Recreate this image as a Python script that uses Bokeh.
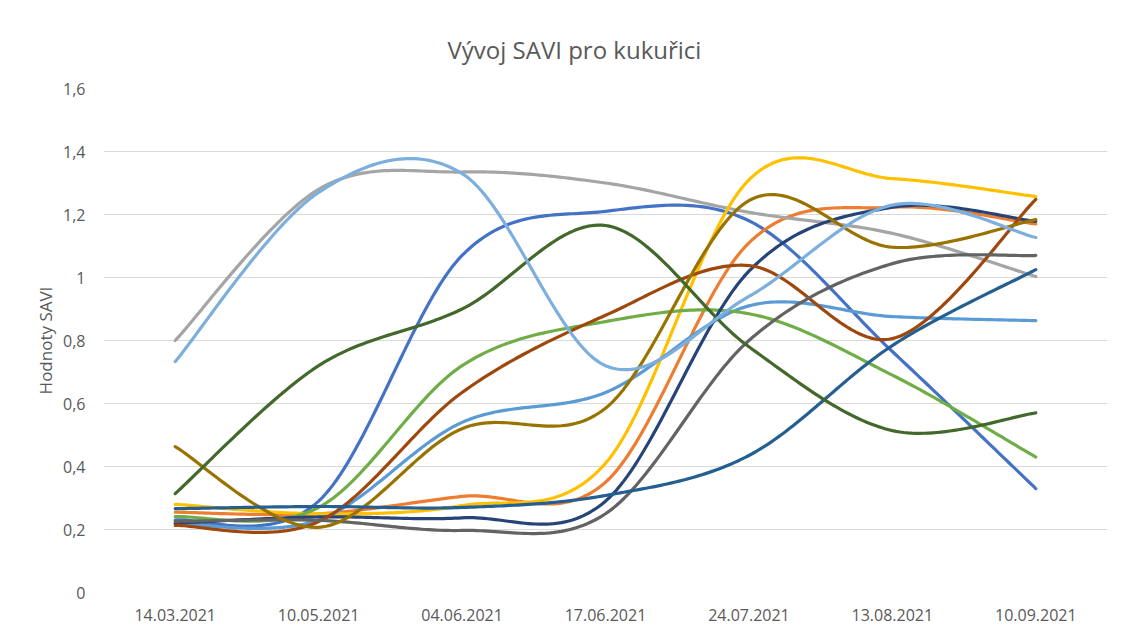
import numpy as np
from bokeh.plotting import figure
from bokeh.models import FixedTicker, Title
from bokeh.embed import file_html
from bokeh.resources import INLINE

# ---- data -------------------------------------------------------------
dates = ["14.03.2021", "10.05.2021", "04.06.2021", "17.06.2021",
         "24.07.2021", "13.08.2021", "10.09.2021"]

s01 = [0.23, 0.29, 1.07, 1.21, 1.18, 0.765, 0.33]       # blue
s02 = [0.255, 0.25, 0.305, 0.35, 1.11, 1.223, 1.17]     # orange
s03 = [0.80, 1.28, 1.335, 1.30, 1.207, 1.14, 1.003]     # gray
s04 = [0.28, 0.25, 0.276, 0.41, 1.31, 1.314, 1.257]     # yellow
s05 = [0.219, 0.23, 0.54, 0.635, 0.91, 0.876, 0.863]    # light blue
s06 = [0.241, 0.27, 0.72, 0.86, 0.885, 0.69, 0.43]      # green
s07 = [0.22, 0.24, 0.237, 0.29, 1.02, 1.223, 1.178]     # navy
s08 = [0.213, 0.225, 0.635, 0.88, 1.038, 0.806, 1.248]  # brown
s09 = [0.226, 0.229, 0.197, 0.25, 0.80, 1.044, 1.07]    # dark gray
s10 = [0.463, 0.207, 0.52, 0.585, 1.244, 1.096, 1.184]  # olive
s11 = [0.266, 0.273, 0.27, 0.308, 0.435, 0.784, 1.025]  # steel blue
s12 = [0.314, 0.72, 0.90, 1.165, 0.78, 0.514, 0.57]     # dark green
s13 = [0.733, 1.27, 1.33, 0.72, 0.94, 1.23, 1.127]      # sky blue

series = [s01, s02, s03, s04, s05, s06, s07, s08, s09, s10, s11, s12, s13]
colors = ["#4472C4", "#ED7D31", "#A5A5A5", "#FFC000", "#5B9BD5", "#70AD47",
          "#264478", "#9E480E", "#636363", "#997300", "#255E91", "#43682B",
          "#7CAFDD"]

y_ticks = [0, 0.2, 0.4, 0.6, 0.8, 1, 1.2, 1.4, 1.6]
y_labels = ["0", "0,2", "0,4", "0,6", "0,8", "1", "1,2", "1,4", "1,6"]


def smooth(vals, n=40):
    """Excel-like smoothed line (Bezier with 1/6 tension)."""
    v = np.asarray(vals, dtype=float)
    x = np.arange(len(v), dtype=float)
    xs, ys = [], []
    for i in range(len(v) - 1):
        p0 = v[i - 1] if i > 0 else v[i]
        p3 = v[i + 2] if i + 2 < len(v) else v[i + 1]
        x0 = x[i - 1] if i > 0 else x[i]
        x3 = x[i + 2] if i + 2 < len(v) else x[i + 1]
        p1, p2 = v[i], v[i + 1]
        x1, x2 = x[i], x[i + 1]
        c1y = p1 + (p2 - p0) / 6.0
        c2y = p2 - (p3 - p1) / 6.0
        c1x = x1 + (x2 - x0) / 6.0
        c2x = x2 - (x3 - x1) / 6.0
        t = np.linspace(0, 1, n)
        b0 = (1 - t) ** 3
        b1 = 3 * (1 - t) ** 2 * t
        b2 = 3 * (1 - t) * t ** 2
        b3 = t ** 3
        xs.extend(b0 * x1 + b1 * c1x + b2 * c2x + b3 * x2)
        ys.extend(b0 * p1 + b1 * c1y + b2 * c2y + b3 * p2)
    return xs, ys


FONT = "Open Sans"
TXT = "#595959"

p = figure(width=1122, height=625, output_backend="svg", toolbar_location=None,
           x_range=(-0.5, 6.5), y_range=(0, 1.6),
           min_border_left=103, min_border_right=15,
           min_border_top=88, min_border_bottom=33)
p.outline_line_color = None
p.background_fill_color = "white"
p.border_fill_color = "white"

for vals, col in zip(series, colors):
    xs, ys = smooth(vals)
    p.line(xs, ys, line_color=col, line_width=3.2, line_cap="round",
           line_join="round")

# axes
p.xaxis.ticker = FixedTicker(ticks=list(range(len(dates))))
p.xaxis.major_label_overrides = {i: d for i, d in enumerate(dates)}
p.yaxis.ticker = FixedTicker(ticks=y_ticks)
p.yaxis.major_label_overrides = {t: l for t, l in zip(y_ticks, y_labels)}

for ax in (p.xaxis[0], p.yaxis[0]):
    ax.axis_line_color = None
    ax.major_tick_line_color = None
    ax.minor_tick_line_color = None
    ax.major_label_text_font = FONT
    ax.major_label_text_font_size = "16px"
    ax.major_label_text_color = TXT

p.xaxis.major_label_standoff = 10
p.yaxis.major_label_standoff = 12
p.yaxis.axis_label = "Hodnoty SAVI"
p.yaxis.axis_label_text_font = FONT
p.yaxis.axis_label_text_font_size = "17px"
p.yaxis.axis_label_text_font_style = "normal"
p.yaxis.axis_label_text_color = TXT
p.yaxis.axis_label_standoff = 3

p.xgrid.grid_line_color = None
p.ygrid.ticker = FixedTicker(ticks=y_ticks)
p.ygrid.grid_line_color = "#D9D9D9"
p.ygrid.grid_line_width = 1

p.title = Title(text="Vývoj SAVI pro kukuřici", align="left", offset=344,
                text_font=FONT, text_font_size="24px",
                text_font_style="normal", text_color=TXT, standoff=46)

open("out.html", "w").write(file_html(p, INLINE))
